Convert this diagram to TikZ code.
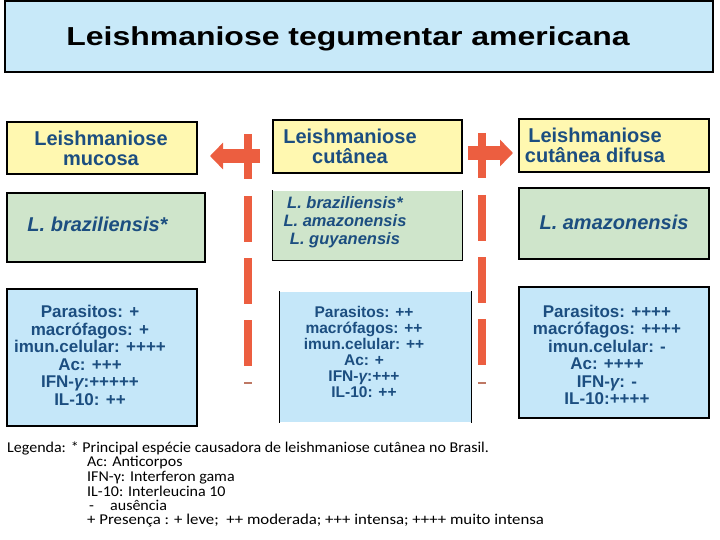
\documentclass[tikz,border=0pt]{standalone}
\usepackage{graphicx}
\usepackage{fontspec}
\setmainfont{Liberation Sans}
\newfontfamily\legfont{Carlito}
\usetikzlibrary{arrows.meta}
\definecolor{titlebg}{RGB}{200,233,249}
\definecolor{yelbg}{RGB}{255,248,176}
\definecolor{grnbg}{RGB}{207,229,203}
\definecolor{blubg}{RGB}{197,231,249}
\definecolor{txtblue}{RGB}{28,78,128}
\definecolor{barorange}{RGB}{236,94,64}
\definecolor{markbrown}{RGB}{190,120,100}
\newcommand{\myleg}[2][1.067]{\scalebox{#1}[1]{#2}}
\tikzset{
  boxbase/.style={rectangle, inner sep=0pt, line width=1.1pt},
  ybox/.style={boxbase, fill=yelbg, draw=black},
  gbox/.style={boxbase, fill=grnbg, draw=black},
  bbox/.style={boxbase, fill=blubg, draw=black},
  headtxt/.style={inner sep=0pt, align=center, text=txtblue, font=\fontsize{20}{20}\selectfont\bfseries},
  spectxt/.style={inner sep=0pt, align=center, text=txtblue, font=\fontsize{20}{20}\selectfont\bfseries\itshape},
  datatxt/.style={inner sep=0pt, align=center, text=txtblue, font=\fontsize{17}{17.5}\selectfont\bfseries},
  legtxt/.style={inner sep=0pt, anchor=base west, font=\legfont\fontsize{15}{15}\selectfont},
  bigarrow/.style={draw=barorange, line width=14pt, -{Triangle[width=26pt,length=13pt]}},
  dashbar/.style={draw=barorange, line width=8pt, dash pattern=on 45.5pt off 16.5pt},
  smallmark/.style={draw=markbrown, line width=2.2pt}
}
\begin{document}
\begin{tikzpicture}[x=1pt,y=-1pt]
\useasboundingbox (0,0) rectangle (720,540);
% title
\node[boxbase, fill=titlebg, draw=black, minimum width=708, minimum height=71] (title) at (359,36.5) {};
\node[inner sep=0pt, anchor=base, font=\fontsize{26}{26}\selectfont\bfseries] (titletxt) at (348,46) {\scalebox{1.23}[1]{Leishmaniose tegumentar americana}};
% yellow boxes
\node[ybox, minimum width=190, minimum height=52] (y1) at (102,148) {};
\node[ybox, minimum width=189, minimum height=53] (y2) at (367.5,146.5) {};
\node[ybox, minimum width=190, minimum height=53] (y3) at (614,145.5) {};
\node[headtxt] (y1t) at (101,148) {Leishmaniose\\mucosa};
\node[headtxt] (y2t) at (350,146) {Leishmaniose\\cutânea};
\node[headtxt] (y3t) at (595,145.5) {Leishmaniose\\cutânea difusa};
% green boxes
\node[gbox, minimum width=198, minimum height=69] (g1) at (106,227.5) {};
\node[boxbase, fill=grnbg, minimum width=189, minimum height=69] (g2) at (367.5,225.5) {};
\draw[line width=1.1pt] (g2.north west) -- (g2.south west) -- (g2.south east) -- (g2.north east);
\node[gbox, minimum width=190, minimum height=71] (g3) at (614,223.5) {};
\node[spectxt] (g1t) at (97.5,224) {L. braziliensis*};
\node[spectxt, font=\fontsize{16.5}{18}\selectfont\bfseries\itshape] (g2t) at (345,222) {L. braziliensis*\\L. amazonensis\\L. guyanensis};
\node[spectxt] (g3t) at (614,222) {L. amazonensis};
% blue boxes
\node[bbox, minimum width=190, minimum height=137] (b1) at (102,357.5) {};
\node[boxbase, fill=blubg, minimum width=191, minimum height=130] (b2) at (375.5,357) {};
\draw[line width=1.1pt] (b2.north west) -- (b2.south west);
\draw[line width=1.1pt] (b2.north east) -- (b2.south east);
\node[bbox, minimum width=190, minimum height=131] (b3) at (614,352.5) {};
\node[datatxt] (b1t) at (90,355.5) {Parasitos: +\\macrófagos: +\\imun.celular: ++++\\Ac: +++\\IFN-{\itshape γ}:+++++\\IL-10: ++};
\node[datatxt, font=\fontsize{15.5}{16}\selectfont\bfseries] (b2t) at (364,352) {Parasitos: ++\\macrófagos: ++\\imun.celular: ++\\Ac: +\\IFN-{\itshape γ}:+++\\IL-10: ++};
\node[datatxt] (b3t) at (607,355) {Parasitos: ++++\\macrófagos: ++++\\imun.celular: -\\Ac: ++++\\IFN-{\itshape γ}: -\\IL-10:++++};
% dashed bars and arrows
\coordinate (lbtop) at (248,134);
\coordinate (lbbot) at (248,367);
\coordinate (rbtop) at (482,133);
\coordinate (rbbot) at (482,366);
\draw[dashbar] (lbtop) -- (lbbot);
\draw[dashbar] (rbtop) -- (rbbot);
\coordinate (laS) at (260,156);
\coordinate (laE) at (210,156);
\coordinate (raS) at (468,153);
\coordinate (raE) at (513,153);
\draw[bigarrow] (laS) -- (laE);
\draw[bigarrow] (raS) -- (raE);
\coordinate (lm1) at (244,383);
\coordinate (lm2) at (252,383);
\coordinate (rm1) at (478,383);
\coordinate (rm2) at (486,383);
\draw[smallmark] (lm1) -- (lm2);
\draw[smallmark] (rm1) -- (rm2);
% legend
\node[legtxt] (leg1) at (7,452) {\myleg{Legenda: * Principal espécie causadora de leishmaniose cutânea no Brasil.}};
\node[legtxt] (leg2) at (87,466.5) {\myleg{Ac: Anticorpos}};
\node[legtxt] (leg3) at (87,481) {\myleg{IFN-γ: Interferon gama}};
\node[legtxt] (leg4) at (87,496) {\myleg{IL-10: Interleucina 10}};
\node[legtxt] (leg5a) at (89,510) {\myleg{-}};
\node[legtxt] (leg5b) at (110,510) {\myleg{ausência}};
\node[legtxt] (leg6) at (87,524.5) {\myleg[1.12]{+ Presença : + leve;\ \ ++ moderada; +++ intensa; ++++ muito intensa}};
\end{tikzpicture}
\end{document}
